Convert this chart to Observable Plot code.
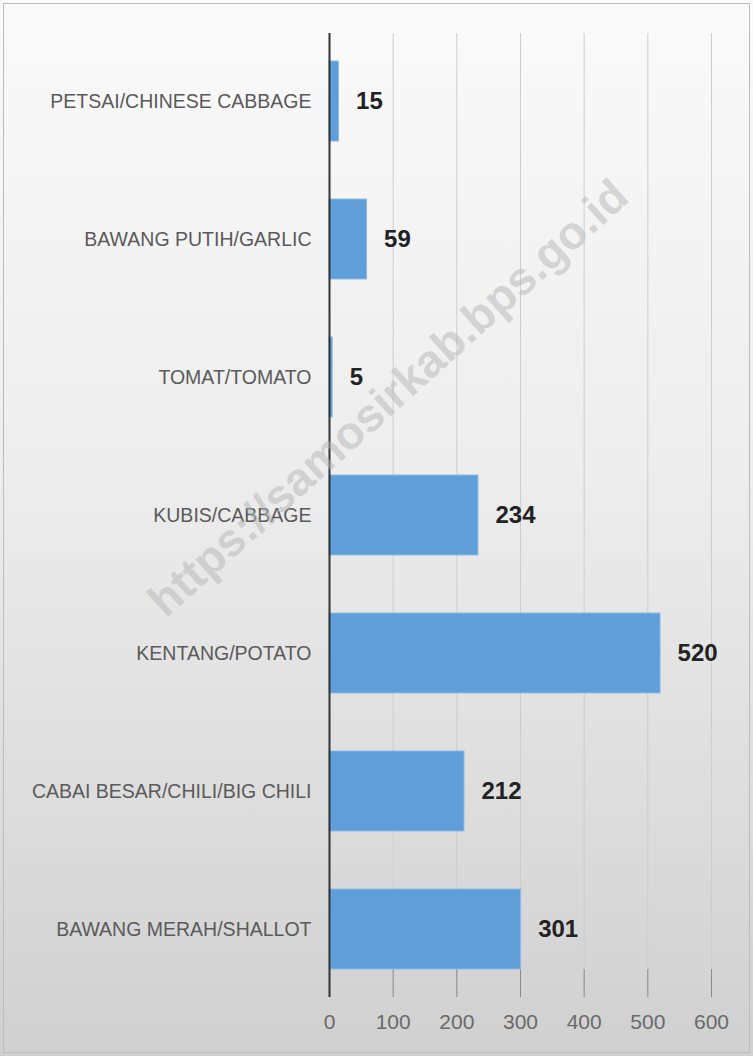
<!DOCTYPE html>
<html>
<head>
<meta charset="utf-8">
<script src="https://cdn.jsdelivr.net/npm/d3@7"></script>
<script src="https://cdn.jsdelivr.net/npm/@observablehq/plot@0.6"></script>
<style>
  html, body { margin: 0; padding: 0; background: #fff; }
  #chart { width: 753px; height: 1056px; position: relative; background: linear-gradient(to bottom, #fafafa 0%, #ededed 45%, #d0d0d0 100%); }
  #chart::after { content: ""; position: absolute; left: 3px; top: 3px; right: 3px; bottom: 3px; border: 1px solid #bcbcbc; pointer-events: none; }
  #chart svg { display: block; }
</style>
</head>
<body>
<div id="chart"></div>
<script>
const categories = [
  "PETSAI/CHINESE CABBAGE",
  "BAWANG PUTIH/GARLIC",
  "TOMAT/TOMATO",
  "KUBIS/CABBAGE",
  "KENTANG/POTATO",
  "CABAI BESAR/CHILI/BIG CHILI",
  "BAWANG MERAH/SHALLOT"
];
const values = [15, 59, 5, 234, 520, 212, 301];
const xTicks = [0, 100, 200, 300, 400, 500, 600];
const watermark = "https://samosirkab.bps.go.id";

const data = categories.map((c, i) => ({category: c, value: values[i]}));
const font = "'Liberation Sans', Arial, sans-serif";

const chart = Plot.plot({
  width: 753,
  height: 1056,
  marginLeft: 329,
  marginRight: 42,
  marginTop: 33,
  marginBottom: 59,
  style: {fontFamily: font, background: "none"},
  x: {domain: [0, 600], ticks: xTicks, label: null},
  y: {domain: categories, paddingInner: 0.42, paddingOuter: 0.2, label: null},
  marks: [
    Plot.gridX(xTicks, {stroke: "#cdcdcd", strokeOpacity: 1, strokeWidth: 1}),
    Plot.ruleX(xTicks, {stroke: "#8a8a8a", strokeWidth: 1, insetTop: 936}),
    Plot.barX(data, {x: "value", y: "category", fill: "#5f9ed8", stroke: "#8dbbe6", strokeWidth: 1}),
    Plot.ruleX([0], {stroke: "#333", strokeWidth: 2}),
    Plot.text(data, {x: "value", y: "category", text: d => String(d.value), dx: 17, textAnchor: "start", fontWeight: "bold", fontSize: 24, fill: "#222"}),
    Plot.axisX({ticks: xTicks, tickSize: 0, tickPadding: 17, fontSize: 21, color: "#6a6a6a", anchor: "bottom", label: null}),
    Plot.axisY({tickSize: 0, tickPadding: 18, fontSize: 19.5, color: "#5a5a5a", anchor: "left", label: null}),
    Plot.text([watermark], {frameAnchor: "middle", text: d => d, rotate: -42, dx: -132, dy: -117, fontSize: 46, fontWeight: "bold", fill: "#b5b5b5", fillOpacity: 0.5})
  ]
});
document.getElementById("chart").appendChild(chart);
</script>
</body>
</html>
